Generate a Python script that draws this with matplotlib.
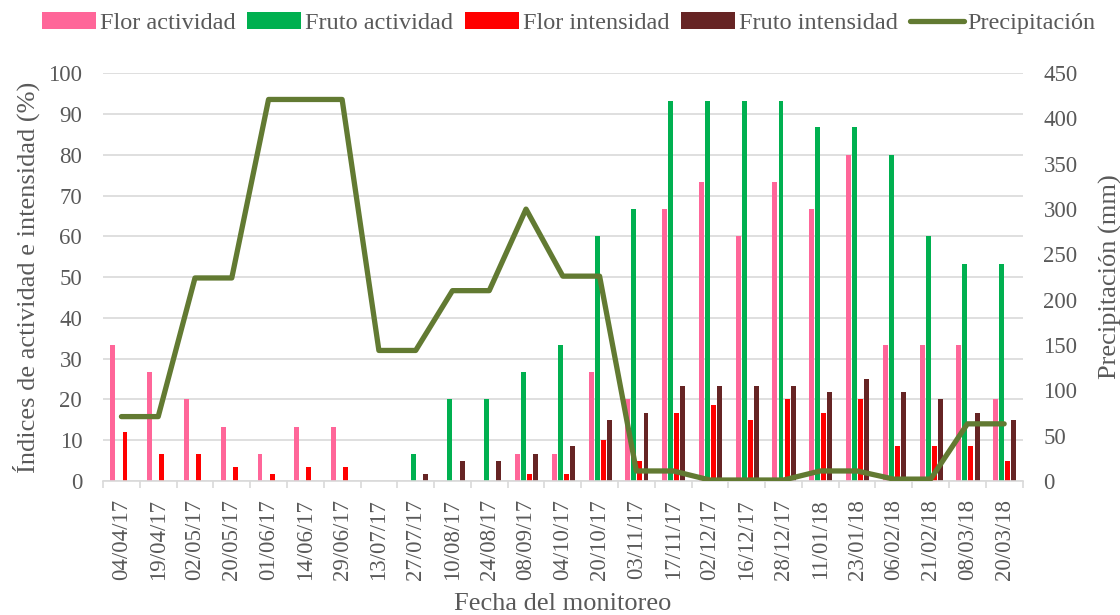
import matplotlib.pyplot as plt
import numpy as np

plt.rcParams['font.family'] = ['Liberation Serif', 'DejaVu Serif']

fechas = ['04/04/17', '19/04/17', '02/05/17', '20/05/17', '01/06/17', '14/06/17',
          '29/06/17', '13/07/17', '27/07/17', '10/08/17', '24/08/17', '08/09/17',
          '04/10/17', '20/10/17', '03/11/17', '17/11/17', '02/12/17', '16/12/17',
          '28/12/17', '11/01/18', '23/01/18', '06/02/18', '21/02/18', '08/03/18',
          '20/03/18']

flor_act = [33.3, 26.7, 20, 13.3, 6.7, 13.3, 13.3, 0, 0, 0, 0, 6.7, 6.7, 26.7, 20,
            66.7, 73.3, 60, 73.3, 66.7, 80, 33.3, 33.3, 33.3, 20]
fruto_act = [0, 0, 0, 0, 0, 0, 0, 0, 6.7, 20, 20, 26.7, 33.3, 60, 66.7,
             93.3, 93.3, 93.3, 93.3, 86.7, 86.7, 80, 60, 53.3, 53.3]
flor_int = [11.9, 6.7, 6.7, 3.3, 1.7, 3.3, 3.3, 0, 0, 0, 0, 1.7, 1.7, 10, 5,
            16.7, 18.5, 15, 20, 16.7, 20, 8.6, 8.6, 8.6, 5]
fruto_int = [0, 0, 0, 0, 0, 0, 0, 0, 1.7, 5, 5, 6.7, 8.5, 15, 16.7,
             23.3, 23.3, 23.3, 23.3, 21.7, 25, 21.7, 20, 16.7, 15]
precip = [71, 71, 224, 224, 421, 421, 421, 144, 144, 210, 210, 300, 226, 226, 11,
          11, 1, 1, 1, 11, 11, 2, 2, 63, 63]

gris = '#595959'
x = np.arange(len(fechas))

fig = plt.figure(figsize=(11.2, 6.15), dpi=100)
ax = fig.add_axes([0.092, 0.218, 0.821, 0.663])
ax2 = ax.twinx()

series = [(flor_act, '#FF6699', 'Flor actividad'),
          (fruto_act, '#00B050', 'Fruto actividad'),
          (flor_int, '#FF0000', 'Flor intensidad'),
          (fruto_int, '#662424', 'Fruto intensidad')]
handles = []
for i, (vals, col, lab) in enumerate(series):
    b = ax.bar(x + (i - 1.5) * 0.165 + 0.015, vals, width=0.135, color=col,
               label=lab, zorder=2)
    handles.append(b)

ln, = ax2.plot(x, precip, color='#627A32', lw=3.8, solid_joinstyle='round',
               solid_capstyle='round', label='Precipitación')
handles.append(ln)

ax.set_xlim(-0.5, len(fechas) - 0.5)
ax.set_ylim(0, 100)
ax.set_yticks(np.arange(0, 101, 10))
ax2.set_ylim(0, 450)
ax2.set_yticks(np.arange(0, 451, 50))
ax.grid(axis='y', color='#D9D9D9', lw=1.2, zorder=0)
ax.set_axisbelow(True)

for a in (ax, ax2):
    for s in a.spines.values():
        s.set_visible(False)
ax.spines['bottom'].set_visible(True)
ax.spines['bottom'].set_color('#D9D9D9')
ax.spines['bottom'].set_linewidth(1.2)

ax.set_xticks(x)
ax.set_xticklabels(fechas, rotation=90)
ax.set_xticks(np.arange(-0.5, len(fechas), 1), minor=True)
ax.tick_params(axis='x', which='major', length=0, pad=13, labelsize=16.5, labelcolor=gris)
ax.tick_params(axis='x', which='minor', length=5, color='#D9D9D9', width=1.2)
ax.tick_params(axis='y', length=0, pad=15, labelsize=16.5, labelcolor=gris)
ax2.tick_params(axis='y', length=0, pad=15, labelsize=16.5, labelcolor=gris)

ax.set_xlabel('Fecha del monitoreo', fontsize=19, color=gris, labelpad=9)
ax.set_ylabel('Índices de actividad e intensidad (%)', fontsize=19, color=gris, labelpad=6)
ax2.set_ylabel('Precipitación (mm)', fontsize=19, color=gris, labelpad=15)

fig.legend(handles=handles, loc='center', bbox_to_anchor=(0.508, 0.962), ncol=5,
           frameon=False, fontsize=17.5, handlelength=2.2, handletextpad=0.17,
           columnspacing=0.5, labelcolor=gris, borderaxespad=0)

fig.savefig('out.png', dpi=100)
